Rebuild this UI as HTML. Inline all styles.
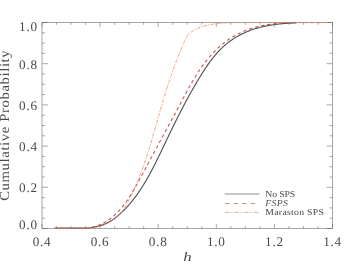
<!DOCTYPE html>
<html><head><meta charset="utf-8"><style>
html,body{margin:0;padding:0;background:#fff;}
svg{display:block}
text{font-family:"Liberation Serif",serif;fill:#4a4a4a;text-rendering:geometricPrecision;}
</style></head><body>
<div style="will-change:transform;width:354px;height:274px"><svg width="354" height="274" viewBox="0 0 354 274">
<rect width="354" height="274" fill="#fff"/>
<rect x="42.0" y="22.5" width="290.5" height="206.0" fill="none" stroke="#555" stroke-width="0.52"/>
<path d="M42.00,228.5 v-4.6 M42.00,22.5 v4.6 M56.52,228.5 v-2.3 M56.52,22.5 v2.3 M71.05,228.5 v-2.3 M71.05,22.5 v2.3 M85.58,228.5 v-2.3 M85.58,22.5 v2.3 M100.10,228.5 v-4.6 M100.10,22.5 v4.6 M114.62,228.5 v-2.3 M114.62,22.5 v2.3 M129.15,228.5 v-2.3 M129.15,22.5 v2.3 M143.68,228.5 v-2.3 M143.68,22.5 v2.3 M158.20,228.5 v-4.6 M158.20,22.5 v4.6 M172.72,228.5 v-2.3 M172.72,22.5 v2.3 M187.25,228.5 v-2.3 M187.25,22.5 v2.3 M201.78,228.5 v-2.3 M201.78,22.5 v2.3 M216.30,228.5 v-4.6 M216.30,22.5 v4.6 M230.82,228.5 v-2.3 M230.82,22.5 v2.3 M245.35,228.5 v-2.3 M245.35,22.5 v2.3 M259.88,228.5 v-2.3 M259.88,22.5 v2.3 M274.40,228.5 v-4.6 M274.40,22.5 v4.6 M288.93,228.5 v-2.3 M288.93,22.5 v2.3 M303.45,228.5 v-2.3 M303.45,22.5 v2.3 M317.98,228.5 v-2.3 M317.98,22.5 v2.3 M332.50,228.5 v-4.6 M332.50,22.5 v4.6 M42.0,228.50 h6.0 M332.5,228.50 h-6.0 M42.0,218.20 h3.0 M332.5,218.20 h-3.0 M42.0,207.90 h3.0 M332.5,207.90 h-3.0 M42.0,197.60 h3.0 M332.5,197.60 h-3.0 M42.0,187.30 h6.0 M332.5,187.30 h-6.0 M42.0,177.00 h3.0 M332.5,177.00 h-3.0 M42.0,166.70 h3.0 M332.5,166.70 h-3.0 M42.0,156.40 h3.0 M332.5,156.40 h-3.0 M42.0,146.10 h6.0 M332.5,146.10 h-6.0 M42.0,135.80 h3.0 M332.5,135.80 h-3.0 M42.0,125.50 h3.0 M332.5,125.50 h-3.0 M42.0,115.20 h3.0 M332.5,115.20 h-3.0 M42.0,104.90 h6.0 M332.5,104.90 h-6.0 M42.0,94.60 h3.0 M332.5,94.60 h-3.0 M42.0,84.30 h3.0 M332.5,84.30 h-3.0 M42.0,74.00 h3.0 M332.5,74.00 h-3.0 M42.0,63.70 h6.0 M332.5,63.70 h-6.0 M42.0,53.40 h3.0 M332.5,53.40 h-3.0 M42.0,43.10 h3.0 M332.5,43.10 h-3.0 M42.0,32.80 h3.0 M332.5,32.80 h-3.0 M42.0,22.50 h6.0 M332.5,22.50 h-6.0" stroke="#555" stroke-width="0.5" fill="none"/>
<path d="M54.15,227.95 L55.22,227.95" stroke="#505050" stroke-width="0.55" fill="none"/><path d="M55.22,227.95 L56.29,227.95 L57.35,227.95 L58.41,227.95 L59.47,227.95 L60.52,227.95 L61.57,227.95 L62.61,227.95 L63.65,227.95 L64.69,227.95 L65.72,227.95 L66.75,227.95 L67.77,227.95 L68.79,227.95 L69.80,227.95 L70.81,227.95 L71.81,227.95 L72.81,227.95 L73.80,227.95 L74.79,227.95 L75.77,227.95 L76.75,227.95 L77.71,227.95 L78.68,227.95 L79.63,227.95 L80.58,227.95 L81.53,227.95 L82.46,227.95 L83.39,227.95 L84.31,227.95 L85.23,227.95 L86.14,227.95 L87.04,227.95 L87.93,227.95 L88.82,227.95 L89.70,227.86 L90.57,227.74 L91.43,227.61 L92.28,227.47 L93.13,227.33 L93.97,227.18 L94.79,227.02 L95.61,226.85 L96.42,226.67 L97.23,226.48 L98.02,226.28 L98.80,226.07 L99.58,225.86 L100.34,225.63 L101.09,225.40 L101.84,225.15 L102.57,224.90 L103.30,224.63 L104.01,224.36 L104.72,224.07 L105.41,223.78 L106.10,223.47 L106.77,223.15 L107.43,222.83 L108.09,222.49 L108.73,222.15 L109.37,221.79 L110.00,221.43 L110.62,221.06 L111.23,220.68 L111.83,220.30 L112.43,219.90 L113.02,219.50 L113.60,219.10 L114.18,218.68 L114.75,218.26 L115.31,217.84 L115.87,217.40 L116.42,216.97 L116.97,216.52 L117.51,216.07 L118.05,215.62 L118.58,215.17 L119.11,214.70 L119.64,214.24 L120.16,213.77 L120.68,213.30 L121.19,212.82 L121.70,212.35 L122.21,211.86 L122.71,211.38 L123.21,210.89 L123.71,210.40 L124.21,209.90 L124.70,209.40 L125.19,208.90 L125.67,208.40 L126.15,207.89 L126.63,207.38 L127.11,206.86 L127.58,206.34 L128.05,205.82 L128.52,205.30 L128.98,204.77 L129.44,204.25 L129.90,203.71 L130.35,203.18 L130.80,202.64 L131.25,202.10 L131.70,201.56 L132.14,201.01 L132.58,200.46 L133.02,199.91 L133.46,199.35 L133.89,198.80 L134.32,198.24 L134.75,197.67 L135.17,197.11 L135.60,196.54 L136.02,195.97 L136.43,195.40 L136.85,194.82 L137.26,194.25 L137.67,193.67 L138.08,193.09 L138.49,192.50 L138.89,191.92 L139.29,191.33 L139.69,190.74 L140.09,190.14 L140.48,189.55 L140.87,188.95 L141.26,188.35 L141.65,187.75 L142.04,187.15 L142.42,186.54 L142.81,185.93 L143.19,185.32 L143.56,184.71 L143.94,184.10 L144.32,183.48 L144.69,182.87 L145.06,182.25 L145.43,181.63 L145.80,181.00 L146.16,180.38 L146.53,179.76 L146.89,179.13 L147.25,178.50 L147.61,177.87 L147.97,177.24 L148.33,176.60 L148.68,175.97 L149.03,175.33 L149.39,174.69 L149.74,174.05 L150.09,173.41 L150.43,172.77 L150.78,172.13 L151.13,171.48 L151.47,170.84 L151.81,170.19 L152.15,169.54 L152.49,168.89 L152.83,168.24 L153.17,167.59 L153.51,166.94 L153.85,166.28 L154.18,165.63 L154.52,164.97 L154.85,164.32 L155.18,163.66 L155.51,163.00 L155.84,162.34 L156.17,161.68 L156.50,161.02 L156.83,160.36 L157.16,159.70 L157.48,159.03 L157.81,158.37 L158.14,157.70 L158.46,157.04 L158.78,156.37 L159.11,155.71 L159.43,155.04 L159.75,154.37 L160.08,153.71 L160.40,153.04 L160.72,152.37 L161.04,151.70 L161.36,151.03 L161.68,150.36 L162.00,149.69 L162.32,149.02 L162.64,148.35 L162.96,147.68 L163.28,147.01 L163.60,146.34 L163.92,145.67 L164.24,145.00 L164.56,144.33 L164.87,143.65 L165.19,142.98 L165.51,142.31 L165.83,141.64 L166.15,140.97 L166.47,140.30 L166.79,139.63 L167.11,138.96 L167.43,138.29 L167.75,137.62 L168.07,136.95 L168.39,136.28 L168.71,135.61 L169.03,134.94 L169.35,134.27 L169.68,133.61 L170.00,132.94 L170.32,132.27 L170.64,131.60 L170.97,130.94 L171.29,130.27 L171.61,129.61 L171.94,128.94 L172.26,128.27 L172.59,127.61 L172.91,126.94 L173.24,126.28 L173.57,125.62 L173.89,124.95 L174.22,124.29 L174.55,123.63 L174.87,122.97 L175.20,122.30 L175.53,121.64 L175.86,120.98 L176.19,120.32 L176.52,119.66 L176.85,119.00 L177.18,118.34 L177.51,117.69 L177.85,117.03 L178.18,116.37 L178.51,115.71 L178.84,115.06 L179.18,114.40 L179.51,113.75 L179.85,113.09 L180.18,112.44 L180.52,111.78 L180.86,111.13 L181.19,110.48 L181.53,109.82 L181.87,109.17 L182.21,108.52 L182.55,107.87 L182.89,107.22 L183.23,106.57 L183.57,105.92 L183.91,105.27 L184.25,104.63 L184.60,103.98 L184.94,103.33 L185.28,102.69 L185.63,102.04 L185.97,101.40 L186.32,100.75 L186.67,100.11 L187.01,99.47 L187.36,98.82 L187.71,98.18 L188.06,97.54 L188.41,96.90 L188.76,96.26 L189.11,95.62 L189.46,94.99 L189.82,94.35 L190.17,93.71 L190.52,93.08 L190.88,92.44 L191.23,91.81 L191.59,91.17 L191.95,90.54 L192.31,89.91 L192.66,89.28 L193.02,88.65 L193.38,88.02 L193.74,87.39 L194.11,86.76 L194.47,86.13 L194.83,85.51 L195.20,84.88 L195.56,84.26 L195.93,83.63 L196.29,83.01 L196.66,82.39 L197.03,81.76 L197.40,81.14 L197.77,80.52 L198.14,79.90 L198.51,79.28 L198.88,78.67 L199.26,78.05 L199.63,77.43 L200.00,76.82 L200.38,76.21 L200.76,75.59 L201.14,74.98 L201.52,74.37 L201.90,73.76 L202.28,73.15 L202.66,72.55 L203.05,71.94 L203.43,71.34 L203.82,70.74 L204.21,70.14 L204.60,69.54 L205.00,68.94 L205.39,68.35 L205.79,67.75 L206.19,67.16 L206.59,66.57 L206.99,65.98 L207.39,65.40 L207.80,64.82 L208.21,64.24 L208.62,63.66 L209.03,63.08 L209.45,62.51 L209.87,61.93 L210.29,61.36 L210.71,60.80 L211.14,60.23 L211.57,59.67 L212.00,59.11 L212.43,58.56 L212.87,58.00 L213.31,57.45 L213.75,56.91 L214.20,56.36 L214.64,55.82 L215.10,55.28 L215.55,54.75 L216.01,54.22 L216.47,53.69 L216.94,53.16 L217.41,52.64 L217.88,52.12 L218.35,51.61 L218.83,51.10 L219.31,50.59 L219.80,50.09 L220.29,49.59 L220.79,49.09 L221.28,48.60 L221.79,48.11 L222.29,47.63 L222.80,47.15 L223.32,46.67 L223.83,46.20 L224.36,45.73 L224.88,45.27 L225.41,44.81 L225.95,44.36 L226.49,43.91 L227.03,43.46 L227.58,43.02 L228.14,42.59 L228.70,42.15 L229.26,41.73 L229.83,41.31 L230.40,40.89 L230.98,40.48 L231.56,40.07 L232.15,39.67 L232.74,39.27 L233.34,38.87 L233.94,38.49 L234.54,38.10 L235.15,37.72 L235.77,37.35 L236.39,36.98 L237.01,36.61 L237.64,36.25 L238.28,35.90 L238.92,35.55 L239.56,35.20 L240.21,34.86 L240.86,34.52 L241.52,34.19 L242.19,33.87 L242.86,33.54 L243.53,33.23 L244.21,32.92 L244.89,32.61 L245.58,32.31 L246.27,32.01 L246.97,31.72 L247.67,31.43 L248.38,31.15 L249.09,30.87 L249.80,30.59 L250.53,30.33 L251.25,30.06 L251.98,29.80 L252.72,29.55 L253.46,29.30 L254.21,29.06 L254.96,28.82 L255.71,28.58 L256.48,28.36 L257.24,28.13 L258.01,27.91 L258.79,27.70 L259.57,27.49 L260.35,27.28 L261.14,27.08 L261.94,26.89 L262.74,26.70 L263.54,26.52 L264.36,26.34 L265.17,26.16 L265.99,25.99 L266.82,25.83 L267.65,25.67 L268.48,25.51 L269.32,25.36 L270.17,25.22 L271.02,25.08 L271.87,24.94 L272.73,24.81 L273.60,24.69 L274.47,24.57 L275.34,24.45 L276.22,24.34 L277.10,24.23 L277.99,24.13 L278.88,24.03 L279.77,23.94 L280.67,23.84 L281.58,23.76 L282.48,23.68 L283.39,23.60 L284.31,23.52 L285.23,23.45 L286.15,23.38 L287.07,23.32 L288.00,23.26 L288.94,23.20 L289.87,23.14 L290.81,23.09 L291.75,23.04 L292.69,23.00 L293.64,22.95 L294.59,22.91 L295.54,22.88 L296.50,22.84" stroke="#505050" stroke-width="1.12" fill="none"/>
<path d="M90.89,228.06 L91.77,227.95 L92.63,227.83 L93.49,227.69 L94.34,227.55 L95.17,227.39 L96.00,227.23 L96.81,227.05 L97.62,226.87 L98.41,226.68 L99.20,226.47 L99.97,226.26 L100.74,226.03 L101.50,225.80 L102.24,225.56 L102.98,225.30 L103.71,225.04 L104.42,224.76 L105.13,224.48 L105.83,224.19 L106.51,223.89 L107.19,223.57 L107.86,223.25 L108.52,222.92 L109.17,222.58 L109.80,222.23 L110.43,221.87 L111.05,221.50 L111.66,221.12 L112.26,220.73 L112.86,220.33 L113.44,219.92 L114.01,219.50 L114.57,219.08 L115.13,218.64 L115.67,218.20 L116.21,217.74 L116.73,217.28 L117.25,216.80 L117.76,216.32 L118.25,215.83 L118.74,215.33 L119.22,214.82 L119.69,214.30 L120.15,213.77 L120.61,213.23 L121.05,212.69 L121.49,212.13 L121.92,211.57 L122.34,211.01 L122.76,210.43 L123.16,209.85 L123.57,209.26 L123.96,208.66 L124.35,208.06 L124.73,207.46 L125.11,206.85 L125.48,206.23 L125.85,205.61 L126.21,204.98 L126.57,204.35 L126.93,203.71 L127.28,203.07 L127.62,202.43 L127.97,201.78 L128.31,201.13 L128.65,200.48 L128.98,199.83 L129.31,199.17 L129.65,198.51 L129.98,197.85 L130.30,197.19 L130.63,196.52 L130.95,195.86 L131.28,195.19 L131.60,194.52 L131.92,193.85 L132.24,193.18 L132.55,192.51 L132.87,191.84 L133.18,191.16 L133.50,190.48 L133.81,189.80 L134.12,189.12 L134.42,188.44 L134.73,187.76 L135.03,187.07 L135.34,186.38 L135.64,185.69 L135.94,185.00 L136.24,184.31 L136.53,183.62 L136.83,182.93 L137.12,182.23 L137.42,181.53 L137.71,180.83 L138.00,180.13 L138.28,179.43 L138.57,178.73 L138.86,178.02 L139.14,177.32 L139.42,176.61 L139.70,175.90 L139.98,175.19 L140.26,174.48 L140.53,173.76 L140.81,173.05 L141.08,172.33 L141.35,171.61 L141.62,170.89 L141.89,170.17 L142.16,169.45 L142.43,168.72 L142.69,168.00 L142.95,167.27 L143.22,166.54 L143.48,165.81 L143.73,165.08 L143.99,164.35 L144.25,163.62 L144.50,162.88 L144.76,162.14 L145.01,161.41 L145.26,160.67 L145.51,159.93 L145.76,159.19 L146.01,158.44 L146.25,157.70 L146.50,156.96 L146.74,156.21 L146.99,155.46 L147.23,154.72 L147.47,153.97 L147.71,153.22 L147.95,152.47 L148.19,151.71 L148.42,150.96 L148.66,150.21 L148.90,149.45 L149.13,148.70 L149.36,147.94 L149.60,147.19 L149.83,146.43 L150.06,145.67 L150.29,144.91 L150.52,144.15 L150.75,143.39 L150.98,142.63 L151.21,141.87 L151.43,141.10 L151.66,140.34 L151.89,139.58 L152.11,138.81 L152.34,138.05 L152.56,137.28 L152.79,136.52 L153.01,135.75 L153.23,134.98 L153.46,134.22 L153.68,133.45 L153.90,132.68 L154.12,131.91 L154.34,131.14 L154.57,130.38 L154.79,129.61 L155.01,128.84 L155.23,128.07 L155.45,127.30 L155.67,126.53 L155.89,125.76 L156.11,124.99 L156.33,124.22 L156.55,123.45 L156.77,122.68 L156.99,121.91 L157.21,121.14 L157.43,120.37 L157.64,119.60 L157.86,118.83 L158.08,118.06 L158.30,117.28 L158.52,116.51 L158.74,115.75 L158.96,114.98 L159.18,114.21 L159.41,113.44 L159.63,112.67 L159.85,111.90 L160.07,111.13 L160.29,110.36 L160.51,109.59 L160.74,108.83 L160.96,108.06 L161.18,107.29 L161.41,106.53 L161.63,105.76 L161.85,105.00 L162.08,104.23 L162.31,103.47 L162.53,102.70 L162.76,101.94 L162.99,101.18 L163.21,100.42 L163.44,99.65 L163.67,98.89 L163.90,98.13 L164.13,97.37 L164.36,96.61 L164.59,95.85 L164.82,95.09 L165.05,94.34 L165.29,93.58 L165.52,92.82 L165.76,92.07 L165.99,91.31 L166.23,90.56 L166.46,89.80 L166.70,89.05 L166.94,88.30 L167.18,87.55 L167.41,86.80 L167.65,86.05 L167.89,85.30 L168.14,84.55 L168.38,83.80 L168.62,83.05 L168.87,82.31 L169.11,81.56 L169.36,80.82 L169.60,80.08 L169.85,79.33 L170.10,78.59 L170.35,77.85 L170.60,77.11 L170.85,76.37 L171.10,75.63 L171.35,74.89 L171.60,74.16 L171.86,73.42 L172.11,72.69 L172.37,71.95 L172.63,71.22 L172.89,70.49 L173.15,69.76 L173.41,69.03 L173.67,68.30 L173.93,67.58 L174.19,66.85 L174.46,66.12 L174.73,65.40 L174.99,64.68 L175.26,63.95 L175.53,63.23 L175.80,62.51 L176.07,61.80 L176.34,61.08 L176.62,60.36 L176.89,59.65 L177.17,58.93 L177.45,58.22 L177.72,57.51 L178.00,56.80 L178.28,56.09 L178.57,55.38 L178.85,54.68 L179.14,53.97 L179.42,53.27 L179.71,52.56 L180.00,51.86 L180.29,51.16 L180.58,50.46 L180.87,49.77 L181.17,49.07 L181.46,48.38 L181.76,47.68 L182.06,46.99 L182.36,46.30 L182.66,45.61 L182.96,44.93 L183.26,44.24 L183.57,43.56 L183.88,42.87 L184.19,42.19 L184.50,41.51 L184.81,40.83 L185.12,40.16 L185.43,39.48 L185.75,38.81 L186.07,38.13 L186.39,37.46 L186.71,36.79 L187.20,35.80 L187.57,35.18 L188.06,34.68 L188.56,34.19 L189.07,33.71 L189.60,33.25 L190.14,32.80 L190.70,32.37 L191.26,31.94 L191.84,31.53 L192.43,31.14 L193.04,30.75 L193.65,30.37 L194.28,30.01 L194.92,29.66 L195.57,29.32 L196.23,28.99 L196.90,28.68 L197.59,28.37 L198.28,28.07 L198.99,27.79 L199.70,27.51 L200.42,27.24 L201.16,26.99 L201.90,26.74 L202.65,26.50 L203.42,26.28 L204.19,26.06 L204.97,25.85 L205.75,25.64 L206.55,25.45 L207.35,25.27 L208.17,25.09 L208.99,24.92 L209.81,24.75 L210.65,24.60 L211.49,24.45 L212.34,24.31 L213.19,24.18 L214.06,24.05 L214.92,23.93 L215.80,23.81 L216.68,23.70 L217.56,23.60 L218.46,23.50 L219.35,23.40 L220.25,23.32 L221.16,23.23 L222.07,23.15 L222.99,23.08 L223.91,23.01 L224.83,22.95 L225.76,22.88 L226.70,22.83" stroke="#ea8a62" stroke-width="0.9" fill="none" stroke-dasharray="3.3 1.3 1.1 1.3" stroke-dashoffset="36.36"/>
<path d="M86.96,228.09 L87.84,227.98 L88.70,227.85 L89.55,227.72 L90.40,227.57 L91.22,227.41 L92.04,227.23 L92.84,227.04 L93.63,226.85 L94.41,226.63 L95.18,226.41 L95.93,226.18 L96.68,225.93 L97.41,225.67 L98.14,225.41 L98.85,225.13 L99.55,224.84 L100.24,224.55 L100.93,224.24 L101.60,223.93 L102.27,223.60 L102.93,223.27 L103.58,222.93 L104.22,222.58 L104.86,222.23 L105.48,221.87 L106.10,221.50 L106.72,221.12 L107.32,220.74 L107.92,220.35 L108.52,219.95 L109.10,219.55 L109.68,219.14 L110.25,218.72 L110.82,218.30 L111.38,217.87 L111.94,217.43 L112.48,216.99 L113.03,216.54 L113.56,216.09 L114.09,215.63 L114.62,215.16 L115.14,214.69 L115.65,214.21 L116.16,213.73 L116.66,213.24 L117.16,212.75 L117.65,212.25 L118.14,211.75 L118.62,211.24 L119.09,210.73 L119.57,210.21 L120.03,209.69 L120.50,209.16 L120.96,208.63 L121.41,208.09 L121.86,207.55 L122.30,207.01 L122.75,206.46 L123.18,205.91 L123.62,205.35 L124.05,204.79 L124.47,204.23 L124.89,203.66 L125.31,203.09 L125.73,202.51 L126.14,201.93 L126.55,201.35 L126.95,200.77 L127.35,200.18 L127.75,199.59 L128.15,198.99 L128.54,198.40 L128.93,197.80 L129.32,197.19 L129.70,196.59 L130.09,195.98 L130.47,195.37 L130.84,194.76 L131.22,194.15 L131.59,193.53 L131.97,192.91 L132.34,192.29 L132.70,191.67 L133.07,191.05 L133.43,190.42 L133.80,189.79 L134.16,189.17 L134.52,188.54 L134.88,187.91 L135.24,187.27 L135.59,186.64 L135.95,186.01 L136.31,185.37 L136.66,184.74 L137.01,184.10 L137.37,183.46 L137.72,182.83 L138.07,182.19 L138.42,181.55 L138.78,180.91 L139.13,180.27 L139.48,179.63 L139.83,178.99 L140.18,178.35 L140.53,177.71 L140.88,177.07 L141.22,176.43 L141.57,175.79 L141.92,175.15 L142.27,174.51 L142.62,173.86 L142.96,173.22 L143.31,172.58 L143.66,171.93 L144.00,171.29 L144.35,170.65 L144.70,170.00 L145.04,169.36 L145.39,168.71 L145.73,168.07 L146.08,167.42 L146.42,166.78 L146.77,166.13 L147.11,165.49 L147.46,164.84 L147.80,164.20 L148.14,163.55 L148.49,162.91 L148.83,162.26 L149.17,161.61 L149.52,160.97 L149.86,160.32 L150.20,159.67 L150.55,159.03 L150.89,158.38 L151.23,157.73 L151.58,157.09 L151.92,156.44 L152.26,155.79 L152.61,155.15 L152.95,154.50 L153.29,153.85 L153.64,153.21 L153.98,152.56 L154.32,151.91 L154.67,151.26 L155.01,150.62 L155.35,149.97 L155.70,149.33 L156.04,148.68 L156.38,148.03 L156.73,147.39 L157.07,146.74 L157.41,146.09 L157.76,145.45 L158.10,144.80 L158.45,144.16 L158.79,143.51 L159.14,142.87 L159.48,142.22 L159.83,141.58 L160.17,140.93 L160.52,140.29 L160.86,139.64 L161.21,139.00 L161.56,138.36 L161.90,137.71 L162.25,137.07 L162.60,136.43 L162.95,135.79 L163.29,135.14 L163.64,134.50 L163.99,133.86 L164.34,133.22 L164.69,132.58 L165.03,131.93 L165.38,131.29 L165.73,130.65 L166.08,130.01 L166.43,129.37 L166.78,128.73 L167.13,128.09 L167.48,127.45 L167.83,126.81 L168.18,126.17 L168.52,125.53 L168.87,124.88 L169.22,124.24 L169.57,123.60 L169.92,122.96 L170.27,122.32 L170.62,121.68 L170.97,121.04 L171.32,120.40 L171.67,119.76 L172.02,119.12 L172.36,118.48 L172.71,117.84 L173.06,117.19 L173.41,116.55 L173.76,115.91 L174.11,115.27 L174.45,114.63 L174.80,113.98 L175.15,113.34 L175.50,112.70 L175.84,112.05 L176.19,111.41 L176.54,110.77 L176.88,110.12 L177.23,109.48 L177.57,108.83 L177.92,108.19 L178.26,107.54 L178.61,106.90 L178.95,106.25 L179.29,105.61 L179.64,104.96 L179.98,104.31 L180.32,103.67 L180.67,103.02 L181.01,102.37 L181.35,101.73 L181.70,101.08 L182.04,100.43 L182.38,99.79 L182.73,99.14 L183.07,98.49 L183.42,97.85 L183.76,97.20 L184.10,96.56 L184.45,95.91 L184.79,95.27 L185.14,94.62 L185.49,93.98 L185.83,93.34 L186.18,92.69 L186.53,92.05 L186.88,91.41 L187.23,90.77 L187.58,90.13 L187.93,89.49 L188.28,88.85 L188.63,88.21 L188.98,87.58 L189.34,86.94 L189.69,86.31 L190.05,85.67 L190.41,85.04 L190.77,84.41 L191.13,83.78 L191.49,83.15 L191.85,82.52 L192.21,81.90 L192.58,81.27 L192.94,80.65 L193.31,80.02 L193.68,79.40 L194.05,78.78 L194.42,78.17 L194.79,77.55 L195.17,76.93 L195.55,76.32 L195.92,75.71 L196.30,75.10 L196.69,74.49 L197.07,73.88 L197.45,73.28 L197.84,72.68 L198.23,72.08 L198.62,71.48 L199.02,70.88 L199.41,70.29 L199.81,69.69 L200.21,69.10 L200.61,68.51 L201.01,67.93 L201.42,67.34 L201.83,66.76 L202.24,66.18 L202.65,65.61 L203.07,65.03 L203.49,64.46 L203.91,63.89 L204.33,63.32 L204.75,62.76 L205.18,62.20 L205.61,61.64 L206.05,61.08 L206.48,60.53 L206.92,59.98 L207.37,59.43 L207.81,58.89 L208.26,58.34 L208.71,57.80 L209.16,57.27 L209.62,56.73 L210.08,56.20 L210.54,55.68 L211.01,55.15 L211.47,54.63 L211.95,54.11 L212.42,53.60 L212.90,53.09 L213.38,52.58 L213.86,52.07 L214.35,51.57 L214.84,51.07 L215.34,50.57 L215.83,50.08 L216.34,49.59 L216.84,49.11 L217.35,48.63 L217.86,48.15 L218.37,47.67 L218.89,47.20 L219.42,46.73 L219.94,46.27 L220.47,45.81 L221.00,45.35 L221.54,44.90 L222.08,44.45 L222.63,44.00 L223.17,43.56 L223.73,43.12 L224.28,42.69 L224.84,42.26 L225.41,41.83 L225.97,41.41 L226.55,40.99 L227.12,40.58 L227.70,40.17 L228.29,39.76 L228.87,39.36 L229.47,38.96 L230.06,38.57 L230.66,38.18 L231.27,37.80 L231.88,37.42 L232.49,37.04 L233.11,36.67 L233.73,36.30 L234.36,35.94 L234.99,35.58 L235.63,35.23 L236.27,34.88 L236.91,34.53 L237.56,34.19 L238.22,33.86 L238.87,33.52 L239.54,33.20 L240.21,32.88 L240.88,32.56 L241.56,32.25 L242.24,31.94 L242.93,31.64 L243.62,31.34 L244.31,31.04 L245.02,30.76 L245.72,30.47 L246.43,30.19 L247.15,29.92 L247.87,29.65 L248.60,29.39 L249.33,29.13 L250.06,28.87 L250.81,28.63 L251.55,28.38 L252.30,28.14 L253.06,27.91 L253.82,27.68 L254.59,27.46 L255.36,27.24 L256.14,27.03 L256.92,26.82 L257.71,26.62 L258.50,26.42 L259.30,26.23 L260.10,26.04 L260.91,25.86 L261.73,25.69 L262.55,25.52 L263.37,25.35 L264.20,25.19 L265.04,25.04 L265.88,24.89 L266.73,24.75 L267.58,24.61 L268.44,24.48 L269.30,24.35 L270.17,24.23 L271.05,24.12 L271.93,24.01 L272.82,23.91 L273.71,23.81 L274.60,23.72 L275.51,23.63 L276.41,23.54 L277.32,23.46 L278.24,23.39 L279.16,23.32 L280.08,23.25 L281.01,23.19 L281.94,23.13 L282.88,23.08 L283.82,23.03 L284.76,22.98 L285.71,22.94 L286.66,22.90 L287.61,22.87 L288.57,22.83" stroke="#c6554f" stroke-width="1.08" fill="none" stroke-dasharray="3.3 2.9" stroke-dashoffset="32.49"/>
<path d="M54.48,228.28 L55.46,228.27 L56.45,228.27 L57.45,228.27 L58.45,228.27 L59.46,228.27 L60.47,228.27 L61.49,228.27 L62.50,228.27 L63.52,228.27 L64.54,228.27 L65.56,228.27 L66.58,228.27 L67.60,228.27 L68.62,228.27 L69.64,228.27 L70.66,228.27 L71.67,228.27 L72.68,228.27 L73.68,228.27 L74.68,228.27 L75.67,228.27 L76.66,228.27 L77.64,228.27 L78.61,228.27 L79.58,228.27 L80.53,228.27 L81.48,228.27 L82.42,228.27 L83.35,228.27 L84.27,228.27 L85.18,228.27 L86.07,228.20 L86.96,228.09" stroke="#c6554f" stroke-width="0.6" fill="none" stroke-dasharray="3.3 2.9" stroke-dashoffset="0.00"/><path d="M288.57,22.83 L289.53,22.80 L290.49,22.78 L291.46,22.75 L292.43,22.73 L293.40,22.71 L294.37,22.69 L295.34,22.68 L296.32,22.66 L297.30,22.65 L298.28,22.64 L299.26,22.64 L300.25,22.63 L301.23,22.63 L302.22,22.62 L303.21,22.62 L304.20,22.62 L305.19,22.62 L306.18,22.62 L307.17,22.62 L308.16,22.62 L309.15,22.62 L310.14,22.62 L311.14,22.62 L312.13,22.62 L313.12,22.62 L314.11,22.62 L315.10,22.62 L316.09,22.62 L317.08,22.62 L318.07,22.62 L319.06,22.62 L320.05,22.62 L321.04,22.62 L322.02,22.62 L323.01,22.62 L323.99,22.61 L324.97,22.60 L325.95,22.59 L326.92,22.58 L327.90,22.56 L328.87,22.54" stroke="#c6554f" stroke-width="0.6" fill="none" stroke-dasharray="3.3 2.9" stroke-dashoffset="337.66"/>
<path d="M54.54,228.34 L55.50,228.31 L56.47,228.29 L57.45,228.28 L58.43,228.27 L59.42,228.27 L60.41,228.27 L61.41,228.27 L62.42,228.27 L63.42,228.27 L64.44,228.27 L65.45,228.27 L66.47,228.27 L67.48,228.27 L68.50,228.27 L69.52,228.27 L70.54,228.27 L71.56,228.27 L72.58,228.27 L73.59,228.27 L74.61,228.27 L75.62,228.27 L76.62,228.27 L77.63,228.27 L78.62,228.27 L79.62,228.27 L80.60,228.27 L81.58,228.27 L82.55,228.27 L83.52,228.27 L84.47,228.27 L85.42,228.27 L86.36,228.27 L87.28,228.27 L88.20,228.27 L89.11,228.26 L90.00,228.17 L90.89,228.06" stroke="#ea8a62" stroke-width="0.65" fill="none" stroke-dasharray="3.3 1.3 1.1 1.3" stroke-dashoffset="0.00"/><path d="M226.70,22.83 L227.63,22.78 L228.57,22.73 L229.52,22.68 L230.47,22.64 L231.42,22.60 L232.38,22.57 L233.33,22.54 L234.30,22.51 L235.26,22.50 L236.23,22.50 L237.20,22.50 L238.18,22.50 L239.15,22.50 L240.13,22.50 L241.11,22.50 L242.10,22.50 L243.08,22.50 L244.07,22.50 L245.06,22.50 L246.05,22.50 L247.04,22.50 L248.04,22.50 L249.03,22.50 L250.03,22.50 L251.03,22.50 L252.03,22.50 L253.03,22.50 L254.03,22.50 L255.03,22.50 L256.04,22.50 L257.04,22.50 L258.04,22.50 L259.04,22.50 L260.05,22.50 L261.05,22.50 L262.05,22.50 L263.06,22.50 L264.06,22.50 L265.06,22.50 L266.06,22.50 L267.06,22.50 L268.06,22.50 L269.06,22.50 L270.06,22.50 L271.06,22.50 L272.06,22.50 L273.05,22.50 L274.05,22.50 L275.04,22.50 L276.04,22.50 L277.03,22.50 L278.03,22.50 L279.02,22.50 L280.01,22.50 L281.01,22.50 L282.00,22.50 L282.99,22.50 L283.98,22.50 L284.97,22.50 L285.96,22.50 L286.95,22.50 L287.94,22.50 L288.93,22.50 L289.91,22.50 L290.90,22.50 L291.89,22.50 L292.88,22.50 L293.86,22.50 L294.85,22.50 L295.84,22.50 L296.82,22.50 L297.81,22.50 L298.80,22.50 L299.78,22.50 L300.77,22.50 L301.75,22.50 L302.74,22.50 L303.72,22.50 L304.71,22.50 L305.69,22.50 L306.68,22.50 L307.66,22.50 L308.65,22.50 L309.63,22.50 L310.62,22.50 L311.61,22.50 L312.59,22.50 L313.58,22.50 L314.56,22.50 L315.55,22.50 L316.53,22.50 L317.52,22.50 L318.50,22.50 L319.49,22.50 L320.48,22.50 L321.46,22.50 L322.45,22.50 L323.44,22.50 L324.42,22.50 L325.41,22.50 L326.40,22.50 L327.39,22.50 L328.38,22.50 L329.36,22.50" stroke="#ea8a62" stroke-width="0.65" fill="none" stroke-dasharray="3.3 1.3 1.1 1.3" stroke-dashoffset="303.27"/>
<g font-size="13.2" letter-spacing="0.75"><text x="42.0" y="246.4" text-anchor="middle">0.4</text><text x="100.1" y="246.4" text-anchor="middle">0.6</text><text x="158.2" y="246.4" text-anchor="middle">0.8</text><text x="216.3" y="246.4" text-anchor="middle">1.0</text><text x="274.4" y="246.4" text-anchor="middle">1.2</text><text x="332.5" y="246.4" text-anchor="middle">1.4</text><text x="37.8" y="228.9" text-anchor="end">0.0</text><text x="37.8" y="192.2" text-anchor="end">0.2</text><text x="37.8" y="151.0" text-anchor="end">0.4</text><text x="37.8" y="109.8" text-anchor="end">0.6</text><text x="37.8" y="68.5" text-anchor="end">0.8</text><text x="37.8" y="31.0" text-anchor="end">1.0</text></g>
<text transform="translate(187.4,260.8) scale(1.3,1)" font-size="13" font-style="italic" text-anchor="middle">h</text>
<text transform="translate(9.0,200.8) rotate(-90) scale(1.08,1)" font-size="13.6" textLength="139.3" lengthAdjust="spacing">Cumulative Probability</text>
<path d="M224.7,194.0 H259.3" stroke="#4a4a4a" stroke-width="0.62"/>
<path d="M225,203.5 H259" stroke="#c6554f" stroke-width="0.7" stroke-dasharray="4.4 4.2"/>
<path d="M225,212.4 H259" stroke="#ea8a62" stroke-width="0.7" stroke-dasharray="4.4 1.8 1.4 2"/>
<g font-size="9">
<text transform="translate(265.3,196.7) scale(1.08,1)" textLength="27.6" lengthAdjust="spacing">No SPS</text>
<text transform="translate(265.3,206.2) scale(1.08,1)" font-style="italic" textLength="20.8" lengthAdjust="spacing">FSPS</text>
<text transform="translate(265.3,215.1) scale(1.08,1)" textLength="54.3" lengthAdjust="spacing">Maraston SPS</text>
</g>
</svg></div>
</body></html>
